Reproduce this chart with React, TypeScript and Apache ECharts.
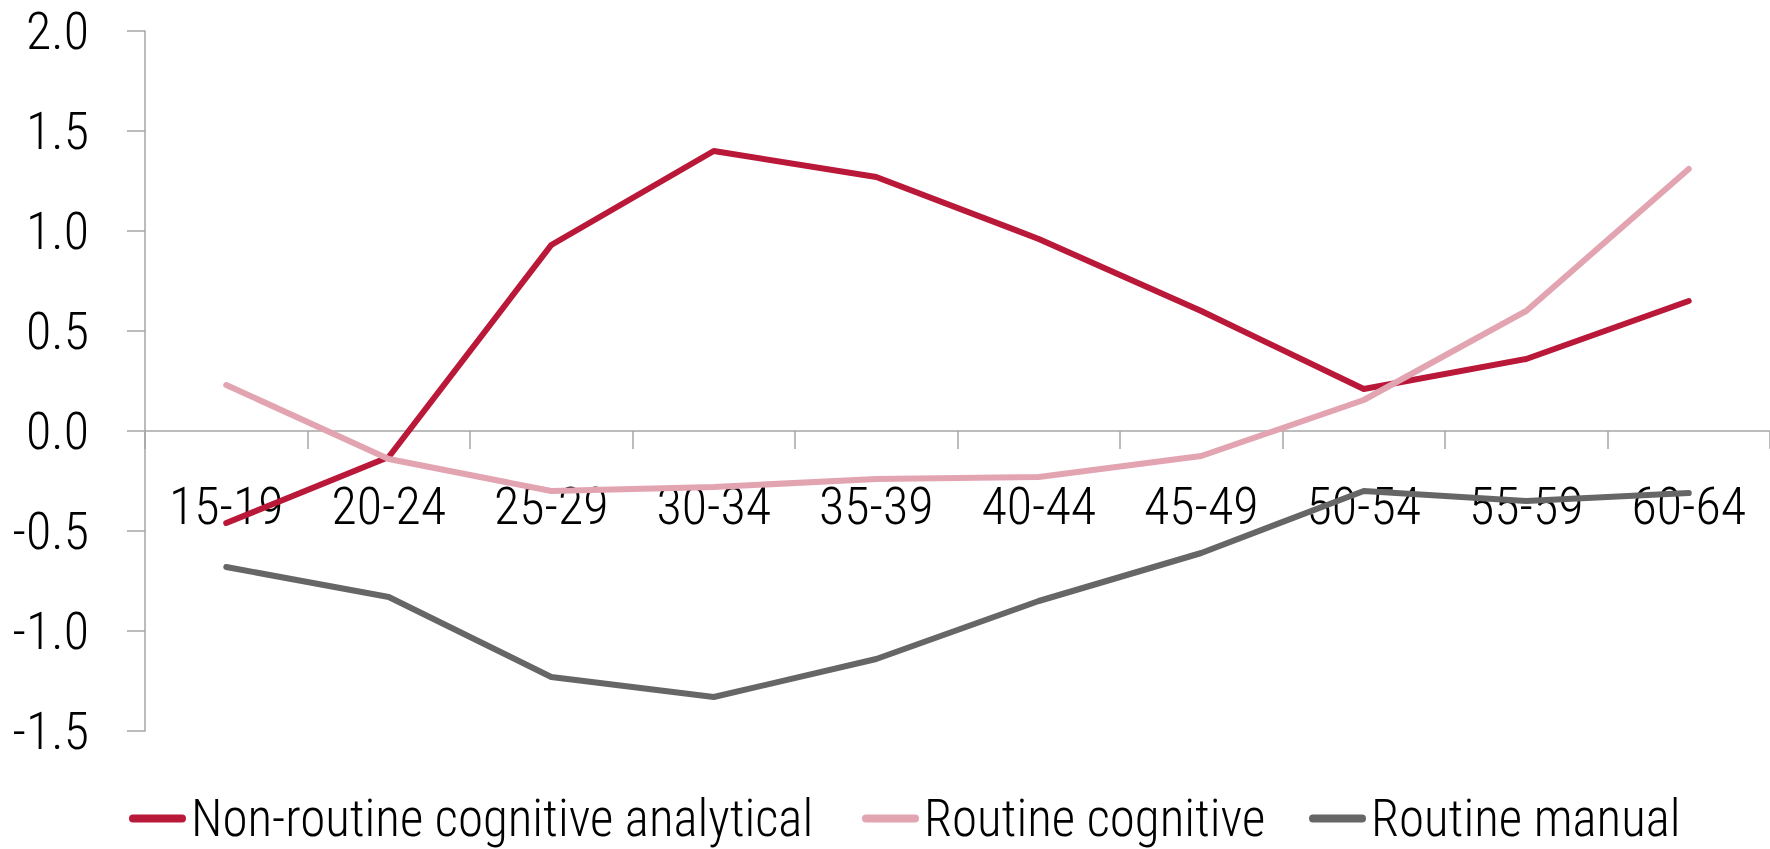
import React, { useEffect, useRef } from "react";
import * as echarts from "echarts";

const categories = ["15-19", "20-24", "25-29", "30-34", "35-39", "40-44", "45-49", "50-54", "55-59", "60-64"];
const nonRoutineCognitiveAnalytical = [-0.46, -0.13, 0.93, 1.4, 1.27, 0.96, 0.6, 0.21, 0.36, 0.65];
const routineCognitive = [0.23, -0.14, -0.3, -0.28, -0.24, -0.23, -0.125, 0.155, 0.6, 1.31];
const routineManual = [-0.68, -0.83, -1.23, -1.33, -1.14, -0.85, -0.61, -0.3, -0.35, -0.31];
const seriesNames = ["Non-routine cognitive analytical", "Routine cognitive", "Routine manual"];
const colors = ["#BA1839", "#E3A4B1", "#666666"];

const FONT = "'Roboto Condensed', 'Liberation Sans Narrow', 'Arial Narrow', 'DejaVu Sans Condensed', Roboto, sans-serif";
const ICON = "path://M4,0 H53 A4,4 0 0 1 53,8 H4 A4,4 0 0 1 4,0 Z";

export default function App() {
  const ref = useRef<HTMLDivElement>(null);
  useEffect(() => {
    if (!ref.current) return;
    const chart = echarts.init(ref.current, null, { renderer: "svg" });
    const values = [nonRoutineCognitiveAnalytical, routineCognitive, routineManual];
    const legendLefts = [124, 857, 1304];
    chart.setOption({
      animation: false,
      backgroundColor: "#ffffff",
      textStyle: { fontFamily: FONT },
      grid: { left: 145, top: 31, bottom: 118, right: -11, containLabel: false },
      legend: seriesNames.map((n, i) => ({
        data: [{ name: n, icon: ICON }],
        left: legendLefts[i],
        top: 788,
        itemWidth: 57,
        itemHeight: 8,
        textStyle: { fontSize: 51, color: "#000", fontFamily: FONT, fontWeight: 300 },
      })),
      xAxis: {
        type: "category",
        data: categories,
        boundaryGap: true,
        position: "bottom",
        offset: -300,
        axisLine: { onZero: false, lineStyle: { color: "#A6A6A6", width: 1.5 } },
        axisTick: { show: true, length: 18, lineStyle: { color: "#A6A6A6", width: 1.5 } },
        axisLabel: { fontSize: 52, color: "#000", margin: 49, fontFamily: FONT, fontWeight: 300 },
        splitLine: { show: false },
      },
      yAxis: {
        type: "value",
        min: -1.5,
        max: 2,
        interval: 0.5,
        axisLine: { show: true, lineStyle: { color: "#A6A6A6", width: 1.5 } },
        axisTick: { show: true, length: 18, lineStyle: { color: "#A6A6A6", width: 1.5 } },
        axisLabel: {
          fontSize: 52,
          color: "#000",
          margin: 56,
          fontFamily: FONT,
          fontWeight: 300,
          formatter: (v: number) => v.toFixed(1),
        },
        splitLine: { show: false },
      },
      series: seriesNames.map((n, i) => ({
        name: n,
        type: "line",
        data: values[i],
        showSymbol: false,
        symbol: "none",
        color: colors[i],
        lineStyle: { width: 6, color: colors[i], cap: "round", join: "round" },
      })),
    });
    return () => chart.dispose();
  }, []);
  return <div ref={ref} style={{ position: "absolute", left: 0, top: 0, width: 1770, height: 849 }} />;
}
